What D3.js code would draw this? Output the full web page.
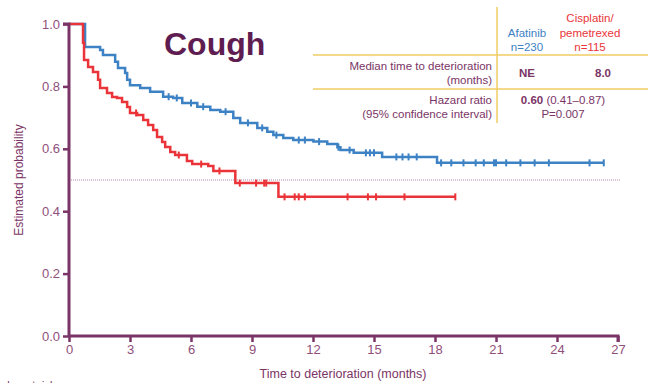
<!DOCTYPE html>
<html>
<head>
<meta charset="utf-8">
<script src="https://cdn.jsdelivr.net/npm/d3@7"></script>
<style>
  body { margin: 0; background: #fff; }
  svg { display: block; font-family: "Liberation Sans", Arial, sans-serif; }
</style>
</head>
<body>
<svg id="chart" width="648" height="383"></svg>
<script>
// step drops: [month, probability after the drop]
const afatinibSteps = [
  [0.79, 0.926], [1.53, 0.917], [1.67, 0.901], [2.27, 0.879], [2.41, 0.859],
  [2.76, 0.843], [2.86, 0.821], [3.0, 0.804], [3.5, 0.795], [3.99, 0.783],
  [4.63, 0.767], [5.12, 0.763], [5.57, 0.747], [6.31, 0.735], [6.95, 0.724],
  [7.44, 0.719], [8.08, 0.699], [8.42, 0.683], [9.26, 0.667], [9.75, 0.655],
  [10.05, 0.644], [10.54, 0.635], [11.03, 0.628], [12.02, 0.623], [12.7, 0.615],
  [13.2, 0.605], [13.35, 0.596], [14.0, 0.587], [15.4, 0.574], [18.1, 0.555]
];
const afatinibEnd = 26.3;
const afatinibCensor = [4.9, 5.3, 6.0, 6.6, 7.7, 8.8, 9.5, 10.2, 11.3, 11.6, 12.3,
  13.25, 13.8, 14.6, 14.8, 15.0, 16.1, 16.4, 16.7, 17.1, 18.3, 18.8, 19.4, 20.0,
  20.4, 20.9, 21.0, 21.5, 22.2, 22.9, 23.6, 25.6, 26.3];

const cisplatinSteps = [
  [0.69, 0.94], [0.74, 0.885], [0.94, 0.862], [1.18, 0.846], [1.43, 0.821],
  [1.53, 0.795], [1.87, 0.779], [2.12, 0.766], [2.36, 0.763], [2.61, 0.75],
  [2.86, 0.734], [3.0, 0.715], [3.35, 0.708], [3.65, 0.692], [3.89, 0.676],
  [4.14, 0.66], [4.33, 0.638], [4.58, 0.622], [4.73, 0.606], [4.98, 0.59],
  [5.22, 0.58], [5.8, 0.561], [6.06, 0.551], [6.85, 0.545], [7.1, 0.529],
  [8.18, 0.49], [10.3, 0.446]
];
const cisplatinEnd = 19.0;
const cisplatinCensor = [3.3, 5.4, 6.5, 7.4, 8.4, 9.2, 9.6, 9.7, 10.6, 11.1, 11.3,
  11.6, 13.7, 14.7, 15.1, 16.5, 19.0];

const xTicks = [0, 3, 6, 9, 12, 15, 18, 21, 24, 27];
const yTicks = [0, 0.2, 0.4, 0.6, 0.8, 1.0];
const medianLine = 0.5;

const purple = "#7b3466";
const tickText = "#8f4f7b";
const blue = "#3d82c4";
const red = "#ea3439";
const gold = "#f2cc63";

const svg = d3.select("#chart");
const x = d3.scaleLinear().domain([0, 27]).range([69, 618]);
const y = d3.scaleLinear().domain([0, 1]).range([336, 24]);

// dotted median reference
svg.append("line")
  .attr("x1", x(0)).attr("x2", 621)
  .attr("y1", y(medianLine)).attr("y2", y(medianLine))
  .style("stroke", "#b28aa6").style("stroke-width", 1.2)
  .style("stroke-dasharray", "1,1");

function curvePoints(steps, end) {
  let pts = [[0, 1]];
  for (let s of steps) pts.push(s);
  pts.push([end, steps[steps.length - 1][1]]);
  return pts;
}
function survAt(steps, t) {
  let v = 1;
  for (let s of steps) if (s[0] <= t) v = s[1];
  return v;
}

const line = d3.line().x(d => x(d[0])).y(d => y(d[1])).curve(d3.curveStepAfter);

function drawCurve(steps, end, censor, color) {
  svg.append("path")
    .datum(curvePoints(steps, end))
    .attr("d", line)
    .style("fill", "none")
    .style("stroke", color)
    .style("stroke-width", 2.5);
  svg.append("g").selectAll("line")
    .data(censor)
    .join("line")
    .attr("x1", d => x(d)).attr("x2", d => x(d))
    .attr("y1", d => y(survAt(steps, d)) - 3.5)
    .attr("y2", d => y(survAt(steps, d)) + 3.5)
    .style("stroke", color).style("stroke-width", 2);
}
drawCurve(afatinibSteps, afatinibEnd, afatinibCensor, blue);
drawCurve(cisplatinSteps, cisplatinEnd, cisplatinCensor, red);

// axes
let yAxis = svg.append("g")
  .attr("transform", `translate(${x(0)},0)`)
  .call(d3.axisLeft(y).tickValues(yTicks).tickFormat(d3.format(".1f")).tickSize(6).tickPadding(3));
let xAxis = svg.append("g")
  .attr("transform", `translate(0,${y(0)})`)
  .call(d3.axisBottom(x).tickValues(xTicks).tickSize(6).tickPadding(3));
for (let ax of [yAxis, xAxis]) {
  ax.select(".domain").style("stroke", purple).style("stroke-width", 3);
  ax.selectAll(".tick line").style("stroke", purple).style("stroke-width", 2.5);
  ax.selectAll(".tick text")
    .style("fill", tickText)
    .style("font-size", "13px")
    .style("font-family", "'Liberation Sans', Arial, sans-serif");
}
yAxis.select(".domain").attr("d", `M-6,${y(1)}H0V${y(0)}`);
xAxis.select(".domain").attr("d", `M${x(0)},0H${x(27)}V6`);

svg.append("text")
  .attr("x", 343).attr("y", 378)
  .attr("text-anchor", "middle")
  .style("fill", purple).style("font-size", "12.5px")
  .text("Time to deterioration (months)");
svg.append("text")
  .attr("transform", `translate(23,${y(0.5)}) rotate(-90)`)
  .attr("text-anchor", "middle")
  .style("fill", purple).style("font-size", "12px")
  .text("Estimated probability");
svg.append("text")
  .attr("x", -16).attr("y", 389)
  .style("fill", purple).style("font-size", "11px")
  .text("Number at risk");

// title
svg.append("text")
  .attr("x", 164).attr("y", 55)
  .style("fill", "#5e1c50").style("font-size", "32px").style("font-weight", "bold")
  .text("Cough");

// summary table
svg.append("line").attr("x1", 497).attr("x2", 497).attr("y1", 7).attr("y2", 123)
  .style("stroke", gold).style("stroke-width", 1.5);
for (let yy of [55, 89]) {
  svg.append("line").attr("x1", 313).attr("x2", 648).attr("y1", yy).attr("y2", yy)
    .style("stroke", gold).style("stroke-width", 1.5);
}
const tableText = [
  { x: 527, y: 37, t: "Afatinib", c: blue, a: "middle" },
  { x: 527, y: 51, t: "n=230", c: blue, a: "middle" },
  { x: 590, y: 22, t: "Cisplatin/", c: red, a: "middle" },
  { x: 590, y: 37, t: "pemetrexed", c: red, a: "middle" },
  { x: 590, y: 51, t: "n=115", c: red, a: "middle" },
  { x: 492, y: 70, t: "Median time to deterioration", c: purple, a: "end" },
  { x: 492, y: 84, t: "(months)", c: purple, a: "end" },
  { x: 492, y: 104, t: "Hazard ratio", c: purple, a: "end" },
  { x: 492, y: 118, t: "(95% confidence interval)", c: purple, a: "end" },
  { x: 563, y: 118, t: "P=0.007", c: purple, a: "middle" }
];
svg.append("g").selectAll("text")
  .data(tableText)
  .join("text")
  .attr("x", d => d.x).attr("y", d => d.y)
  .attr("text-anchor", d => d.a)
  .style("fill", d => d.c)
  .style("font-size", "11.5px")
  .text(d => d.t);
svg.append("text").attr("x", 527).attr("y", 77).attr("text-anchor", "middle")
  .style("fill", purple).style("font-size", "11.5px").style("font-weight", "bold").text("NE");
svg.append("text").attr("x", 603).attr("y", 77).attr("text-anchor", "middle")
  .style("fill", purple).style("font-size", "11.5px").style("font-weight", "bold").text("8.0");
let hr = svg.append("text").attr("x", 563).attr("y", 104).attr("text-anchor", "middle")
  .style("fill", purple).style("font-size", "11.5px");
hr.append("tspan").style("font-weight", "bold").text("0.60");
hr.append("tspan").text(" (0.41\u20130.87)");
</script>
</body>
</html>
